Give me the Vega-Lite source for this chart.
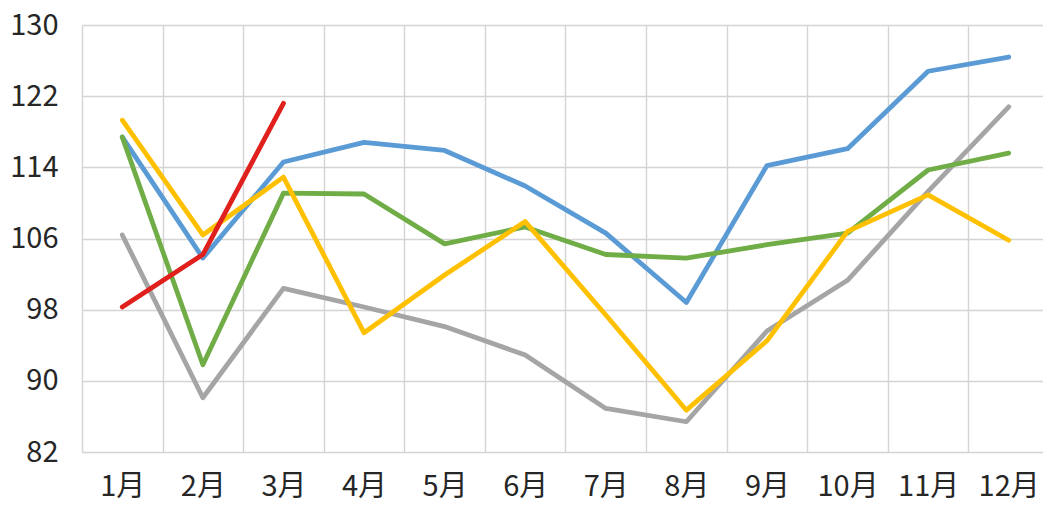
{
  "$schema": "https://vega.github.io/schema/vega-lite/v6.json",
  "autosize": "none",
  "width": 961,
  "height": 427,
  "padding": {"left": 82, "top": 25, "right": 0, "bottom": 60},
  "background": "white",
  "config": {
    "view": {"stroke": null},
    "axis": {
      "labelFont": "Noto Sans CJK SC",
      "labelFontSize": 29,
      "labelColor": "#262626",
      "gridColor": "#d4d4d4",
      "gridWidth": 1.4,
      "domain": false,
      "ticks": false,
      "tickSize": 0,
      "title": null
    }
  },
  "data": {
    "values": [
      {"series": "2014", "month": "1月", "value": 117.4},
      {"series": "2014", "month": "2月", "value": 103.8},
      {"series": "2014", "month": "3月", "value": 114.6},
      {"series": "2014", "month": "4月", "value": 116.8},
      {"series": "2014", "month": "5月", "value": 115.9},
      {"series": "2014", "month": "6月", "value": 111.9},
      {"series": "2014", "month": "7月", "value": 106.6},
      {"series": "2014", "month": "8月", "value": 98.8},
      {"series": "2014", "month": "9月", "value": 114.2},
      {"series": "2014", "month": "10月", "value": 116.1},
      {"series": "2014", "month": "11月", "value": 124.8},
      {"series": "2014", "month": "12月", "value": 126.4},

      {"series": "2015", "month": "1月", "value": 106.4},
      {"series": "2015", "month": "2月", "value": 88.1},
      {"series": "2015", "month": "3月", "value": 100.4},
      {"series": "2015", "month": "4月", "value": 98.3},
      {"series": "2015", "month": "5月", "value": 96.1},
      {"series": "2015", "month": "6月", "value": 92.9},
      {"series": "2015", "month": "7月", "value": 86.9},
      {"series": "2015", "month": "8月", "value": 85.4},
      {"series": "2015", "month": "9月", "value": 95.6},
      {"series": "2015", "month": "10月", "value": 101.3},
      {"series": "2015", "month": "11月", "value": 111.3},
      {"series": "2015", "month": "12月", "value": 120.8},

      {"series": "2016", "month": "1月", "value": 117.4},
      {"series": "2016", "month": "2月", "value": 91.8},
      {"series": "2016", "month": "3月", "value": 111.1},
      {"series": "2016", "month": "4月", "value": 111.0},
      {"series": "2016", "month": "5月", "value": 105.4},
      {"series": "2016", "month": "6月", "value": 107.3},
      {"series": "2016", "month": "7月", "value": 104.2},
      {"series": "2016", "month": "8月", "value": 103.8},
      {"series": "2016", "month": "9月", "value": 105.3},
      {"series": "2016", "month": "10月", "value": 106.6},
      {"series": "2016", "month": "11月", "value": 113.7},
      {"series": "2016", "month": "12月", "value": 115.6},

      {"series": "2017", "month": "1月", "value": 119.3},
      {"series": "2017", "month": "2月", "value": 106.4},
      {"series": "2017", "month": "3月", "value": 112.9},
      {"series": "2017", "month": "4月", "value": 95.4},
      {"series": "2017", "month": "5月", "value": 101.9},
      {"series": "2017", "month": "6月", "value": 107.9},
      {"series": "2017", "month": "7月", "value": 97.4},
      {"series": "2017", "month": "8月", "value": 86.7},
      {"series": "2017", "month": "9月", "value": 94.5},
      {"series": "2017", "month": "10月", "value": 106.8},
      {"series": "2017", "month": "11月", "value": 110.9},
      {"series": "2017", "month": "12月", "value": 105.8},

      {"series": "2018", "month": "1月", "value": 98.3},
      {"series": "2018", "month": "2月", "value": 104.2},
      {"series": "2018", "month": "3月", "value": 121.2}
    ]
  },
  "mark": {"type": "line", "strokeWidth": 4.8, "strokeJoin": "round", "strokeCap": "round"},
  "encoding": {
    "x": {
      "field": "month",
      "type": "nominal",
      "sort": null,
      "scale": {"paddingInner": 0, "paddingOuter": 0, "range": [0, 967]},
      "axis": {
        "labelAngle": 0,
        "labelPadding": 20,
        "grid": true,
        "tickBand": "extent"
      }
    },
    "y": {
      "field": "value",
      "type": "quantitative",
      "scale": {"domain": [82, 130], "nice": false, "zero": false},
      "axis": {
        "values": [82, 90, 98, 106, 114, 122, 130],
        "labelPadding": 24,
        "grid": true
      }
    },
    "color": {
      "field": "series",
      "type": "nominal",
      "scale": {
        "domain": ["2014", "2015", "2016", "2017", "2018"],
        "range": ["#5b9bd5", "#a5a5a5", "#70ad47", "#ffc000", "#e0201c"]
      },
      "legend": null
    }
  }
}
